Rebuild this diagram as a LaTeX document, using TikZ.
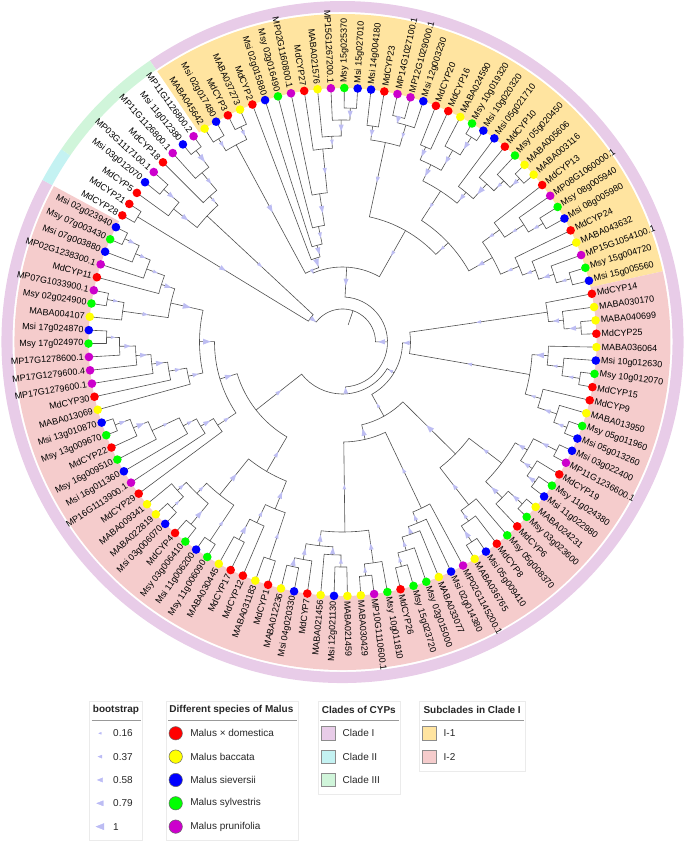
\documentclass[tikz,border=0pt]{standalone}
\usepackage{fontspec}
\setmainfont{Liberation Sans}
\usetikzlibrary{positioning}

\definecolor{cMd}{HTML}{FF0000}
\definecolor{cMb}{HTML}{FFFF00}
\definecolor{cMsi}{HTML}{0000FF}
\definecolor{cMsy}{HTML}{00FF00}
\definecolor{cMp}{HTML}{CC00CC}
\definecolor{ringI}{HTML}{E8CCE8}
\definecolor{ringII}{HTML}{C4F2F2}
\definecolor{ringIII}{HTML}{D0F5DA}
\definecolor{subI}{HTML}{FFE4A0}
\definecolor{subII}{HTML}{F5CCCC}
\definecolor{bootfill}{HTML}{BDBDF2}
\definecolor{treeline}{HTML}{505050}

\def\tipR{254}
\def\stp{3.02521}
\def\aO{150.1}

% angle / radius store for tree nodes
\newcommand\setnode[3]{\expandafter\xdef\csname tA@#1\endcsname{#2}%
  \expandafter\xdef\csname tR@#1\endcsname{#3}}
\newcommand\getA[1]{\csname tA@#1\endcsname}
\newcommand\getR[1]{\csname tR@#1\endcsname}

\newcommand\bootmark[3]{%
  \ifdim #3pt<250pt
    \pgfmathsetmacro\bmR{(#2+#3)/2}%
    \pgfmathsetmacro\bmS{2.2+1.9*rnd}%
    \fill[boot, shift={(#1:\bmR pt)}, rotate=#1]
      (-\bmS pt,0) -- (\bmS pt,0.75*\bmS pt) -- (\bmS pt,-0.75*\bmS pt) -- cycle;
  \fi}

\newcommand\clade[4]{%
  \pgfmathsetmacro\cdA{\getA{#3}}\pgfmathsetmacro\cdB{\getA{#4}}%
  \pgfmathsetmacro\crA{\getR{#3}}\pgfmathsetmacro\crB{\getR{#4}}%
  \draw[branch] (\cdA:\crA pt) -- (\cdA:#2pt)
    arc[start angle=\cdA, end angle=\cdB, radius=#2pt] -- (\cdB:\crB pt);
  \bootmark{\cdA}{#2}{\crA}\bootmark{\cdB}{#2}{\crB}%
  \pgfmathsetmacro\cdM{(\cdA+\cdB)/2}%
  \setnode{#1}{\cdM}{#2}}

\def\leaflist{MdCYP28/cMd, MdCYP21/cMd, MdCYP5/cMd, Msi 03g012070/cMsi,
  MP03G1117100.1/cMp, MdCYP18/cMd, MP11G1126800.1/cMp, Msi 11g012380/cMsi,
  MP11G1126800.2/cMp, MABA045642/cMb, Msi 02g017480/cMsi, MdCYP3/cMd,
  MABA037273/cMb, MdCYP2/cMd, Msi 02g015880/cMsi, Msy 02g016490/cMsy,
  MP02G1160800.1/cMp, MdCYP27/cMd, MABA021576/cMb, MP15G1267200.1/cMp,
  Msy 15g025370/cMsy, Msi 15g027010/cMsi, Msi 14g004180/cMsi, MdCYP23/cMd,
  MP14G1027100.1/cMp, MP12G1029000.1/cMp, Msi 12g003230/cMsi, MdCYP20/cMd,
  MdCYP16/cMd, MABA024590/cMb, Msy 10g019320/cMsy, Msi 10g020320/cMsi,
  Msi 05g021710/cMsi, MdCYP10/cMd, Msy 05g020450/cMsy, MABA005606/cMb,
  MABA003116/cMb, MdCYP13/cMd, MP08G1060000.1/cMp, Msy 08g005940/cMsy,
  Msi 08g005980/cMsi, MdCYP24/cMd, MABA043632/cMb, MP15G1054100.1/cMp,
  Msy 15g004720/cMsy, Msi 15g005560/cMsi, MdCYP14/cMd, MABA030170/cMb,
  MABA040699/cMb, MdCYP25/cMd, MABA036064/cMb, Msi 10g012630/cMsi,
  Msy 10g012070/cMsy, MdCYP15/cMd, MdCYP9/cMd, MABA013950/cMb,
  Msy 05g011960/cMsy, Msi 05g013260/cMsi, Msi 03g022400/cMsi, MP11G1236600.1/cMp,
  MdCYP19/cMd, Msy 11g024380/cMsy, Msi 11g022980/cMsi, MABA024231/cMb,
  Msy 03g023600/cMsy, MdCYP6/cMd, Msy 05g008370/cMsy, MdCYP8/cMd,
  Msi 05g009410/cMsi, MABA036765/cMb, MP02G1145200.1/cMp, Msi 02g014380/cMsi,
  MABA033077/cMb, Msy 02g015000/cMsy, Msy 15g023720/cMsy, MdCYP26/cMd,
  Msy 10g011810/cMsy, MP10G1110600.1/cMp, MABA030429/cMb, MABA021459/cMb,
  Msi 12g021130/cMsi, MABA021456/cMb, MdCYP7/cMd, Msi 04g020330/cMsi,
  MABA012236/cMb, MdCYP1/cMd, MABA031183/cMb, MdCYP12/cMd, MdCYP17/cMd,
  MABA030445/cMb, Msy 11g006090/cMsy, Msi 11g006200/cMsi, Msy 03g006410/cMsy,
  MdCYP4/cMd, Msi 03g006070/cMsi, MABA022819/cMb, MABA009341/cMb, MdCYP29/cMd,
  MP16G1113900.1/cMp, Msi 16g011360/cMsi, Msy 16g009510/cMsy, MdCYP22/cMd,
  Msy 13g009670/cMsy, Msi 13g010870/cMsi, MABA013069/cMb, MdCYP30/cMd,
  MP17G1279600.1/cMp, MP17G1279600.4/cMp, MP17G1278600.1/cMp, Msy 17g024970/cMsy,
  Msi 17g024870/cMsi, MABA004107/cMb, Msy 02g024900/cMsy, MP07G1033900.1/cMp,
  MdCYP11/cMd, MP02G1238300.1/cMp, Msi 07g003880/cMsi, Msy 07g003430/cMsy,
  Msi 02g023940/cMsi}

\begin{document}
\begin{tikzpicture}[x=1pt, y=1pt,
  branch/.style={draw=treeline, line width=0.6pt},
  boot/.style={fill=bootfill},
  dot/.style={circle, inner sep=0pt, minimum size=8.6pt},
  lab/.style={font=\fontsize{9}{10}\selectfont, inner sep=0.5pt},
  legbox/.style={draw=black!8, line width=0.5pt},
  legtitle/.style={font=\bfseries\fontsize{10}{12}\selectfont, text=black!85, inner sep=0pt},
  legrule/.style={draw=black!40, line width=0.6pt},
  legtext/.style={font=\fontsize{10}{12}\selectfont, text=black!85, inner sep=0pt},
  legsq/.style={rectangle, draw=black!45, line width=0.5pt, minimum size=13.3pt, inner sep=0pt},
  legdot/.style={circle, draw=black!60, line width=0.5pt, inner sep=0pt, minimum size=13.4pt},
  legboot/.style={fill=bootfill, draw=bootfill!70!blue!60, line width=0.3pt}
]
\useasboundingbox (-342.5,-500) rectangle (342.5,342);
\pgfmathsetseed{11}

% tip angles
\foreach \nm/\cl [count=\i] in \leaflist {
  \pgfmathsetmacro\la{\aO-(\i-1)*\stp}
  \setnode{l\i}{\la}{\tipR}
}

% subclade sectors and clade ring
\pgfmathsetmacro\bI{\aO-8.5*\stp}
\pgfmathsetmacro\bII{\aO-1.5*\stp}
\pgfmathsetmacro\bS{\aO-45.5*\stp}
\pgfmathsetmacro\bE{\aO-118.5*\stp}
\pgfmathsetmacro\bEE{\bE+360}
\fill[subI] (\bI:254pt) arc[start angle=\bI, end angle=\bS, radius=254pt]
  -- (\bS:328pt) arc[start angle=\bS, end angle=\bI, radius=328pt] -- cycle;
\fill[subII] (\bS:254pt) arc[start angle=\bS, end angle=\bE, radius=254pt]
  -- (\bE:328pt) arc[start angle=\bE, end angle=\bS, radius=328pt] -- cycle;
\fill[ringI] (\bI:330pt) arc[start angle=\bI, end angle=\bE, radius=330pt]
  -- (\bE:341pt) arc[start angle=\bE, end angle=\bI, radius=341pt] -- cycle;
\fill[ringII] (\bEE:330pt) arc[start angle=\bEE, end angle=\bII, radius=330pt]
  -- (\bII:341pt) arc[start angle=\bII, end angle=\bEE, radius=341pt] -- cycle;
\fill[ringIII] (\bII:330pt) arc[start angle=\bII, end angle=\bI, radius=330pt]
  -- (\bI:341pt) arc[start angle=\bI, end angle=\bII, radius=341pt] -- cycle;

% clades II and III
\clade{cII}{240}{l1}{l2}
\clade{n45}{235}{l4}{l5}
\clade{n35}{215}{l3}{n45}
\clade{n89}{241}{l8}{l9}
\clade{n79}{220}{l7}{n89}
\clade{n69}{197}{l6}{n79}
\clade{cIII}{185}{n35}{n69}
\clade{cIIIII}{40}{cII}{cIII}
% subclade I-1
\clade{nA1}{238}{l10}{l11}
\clade{nA2}{238}{l12}{l13}
\clade{cA}{224}{nA1}{nA2}
\clade{nB1}{234}{l21}{l22}
\clade{nB2}{222}{l20}{nB1}
\clade{nB3}{206}{l19}{nB2}
\clade{nB4}{194}{l18}{nB3}
\clade{nB5}{150}{l17}{nB4}
\clade{nB6}{118}{l16}{nB5}
\clade{nB7}{100}{l15}{nB6}
\clade{cB}{88}{l14}{nB7}
\clade{cAB}{78}{cA}{cB}
\clade{nC1}{218}{l23}{l24}
\clade{nC2}{232}{l25}{l26}
\clade{nC3}{226}{nC2}{l27}
\clade{cC}{204}{nC1}{nC3}
\clade{nD1}{212}{l28}{l29}
\clade{nD2}{242}{l31}{l32}
\clade{nD3}{221}{l30}{nD2}
\clade{cD}{198}{nD1}{nD3}
\clade{nE1}{241}{l36}{l37}
\clade{nE2}{228}{l35}{nE1}
\clade{nE3}{214}{l34}{nE2}
\clade{cE}{194}{l33}{nE3}
\clade{nF1}{233}{l40}{l41}
\clade{nF2}{216}{l39}{nF1}
\clade{cF}{193}{l38}{nF2}
\clade{nG1}{237}{l45}{l46}
\clade{nG2}{222}{l44}{nG1}
\clade{nG3}{206}{l43}{nG2}
\clade{cG}{192}{l42}{nG3}
\clade{cDE}{180}{cD}{cE}
\clade{cFG}{172}{cF}{cG}
\clade{cDG}{145}{cDE}{cFG}
\clade{cCG}{128}{cC}{cDG}
\clade{cI1}{75}{cAB}{cCG}
% subclade I-2
\clade{nH1}{239}{l49}{l50}
\clade{nH2}{222}{l48}{nH1}
\clade{cH}{207}{l47}{nH2}
\clade{nI1}{240}{l53}{l54}
\clade{nI2}{222}{l52}{nI1}
\clade{cIg}{206}{l51}{nI2}
\clade{nJ1}{240}{l57}{l58}
\clade{nJ2}{226}{l56}{nJ1}
\clade{cJg}{206}{l55}{nJ2}
\clade{cIJ}{190}{cIg}{cJg}
\clade{cHJ}{68}{cH}{cIJ}
\clade{nK1}{240}{l59}{l60}
\clade{nK2}{238}{l62}{l63}
\clade{nK3}{228}{l61}{nK2}
\clade{cK}{214}{nK1}{nK3}
\clade{nL1}{242}{l64}{l65}
\clade{cL}{223}{nL1}{l66}
\clade{cKL}{200}{cK}{cL}
\clade{nM1}{238}{l69}{l70}
\clade{nM2}{219}{l68}{nM1}
\clade{cM}{206}{l67}{nM2}
\clade{cKM}{159}{cKL}{cM}
\clade{nN1}{232}{l75}{l76}
\clade{nN2}{218}{l74}{nN1}
\clade{nN3}{204}{l73}{nN2}
\clade{nN4}{196}{l72}{nN3}
\clade{cN}{184}{l71}{nN4}
\clade{nO1}{235}{l78}{l79}
\clade{nO2}{223}{l77}{nO1}
\clade{nO3}{225}{l80}{l81}
\clade{nO4}{213}{nO3}{l82}
\clade{nO5}{230}{l84}{l85}
\clade{nO6}{221}{l83}{nO5}
\clade{nO7}{205}{nO4}{nO6}
\clade{cO}{190}{nO2}{nO7}
\clade{cNO}{100}{cN}{cO}
\clade{cKO}{85}{cKM}{cNO}
\clade{cHO}{60}{cHJ}{cKO}
\clade{nP1}{229}{l86}{l87}
\clade{nP2}{223}{l89}{l90}
\clade{nP3}{200}{l88}{nP2}
\clade{cP}{180}{nP1}{nP3}
\clade{nQ1}{239}{l91}{l92}
\clade{nQ2}{237}{l93}{l94}
\clade{nQ3}{238}{l95}{l96}
\clade{nQ4}{222}{nQ3}{l97}
\clade{nQ5}{210}{nQ2}{nQ4}
\clade{cQ}{196}{nQ1}{nQ5}
\clade{cPQ}{150}{cP}{cQ}
\clade{nR1}{242}{l103}{l104}
\clade{nR2}{226}{l102}{nR1}
\clade{nR3}{210}{l101}{nR2}
\clade{nR4}{180}{l100}{nR3}
\clade{nR5}{165}{l99}{nR4}
\clade{cR}{150}{l98}{nR5}
\clade{nS1}{236}{l110}{l111}
\clade{nS2}{223}{l109}{nS1}
\clade{nS3}{207}{l108}{nS2}
\clade{nS4}{192}{l107}{nS3}
\clade{nS5}{176}{l106}{nS4}
\clade{cS}{158}{l105}{nS5}
\clade{nT1}{239}{l113}{l114}
\clade{nT2}{222}{l112}{nT1}
\clade{nT3}{241}{l118}{l119}
\clade{nT4}{225}{l117}{nT3}
\clade{nT5}{209}{l116}{nT4}
\clade{nT6}{190}{l115}{nT5}
\clade{cT}{176}{nT2}{nT6}
\clade{cST}{143}{cS}{cT}
\clade{cRT}{128}{cR}{cST}
\clade{cPT}{110}{cPQ}{cRT}
\clade{cI2}{52}{cHO}{cPT}
\clade{cI}{45}{cI1}{cI2}
% root
\clade{root}{33}{cIIIII}{cI}
\pgfmathsetmacro\rootA{\getA{root}}
\draw[branch] (\rootA:18pt) -- (\rootA:33pt);

% tips and labels
\foreach \nm/\cl [count=\i] in \leaflist {
  \pgfmathsetmacro\la{\aO-(\i-1)*\stp}
  \pgfmathsetmacro\lb{\la<-180 ? \la+360 : \la}
  \pgfmathtruncatemacro\rside{abs(\lb)<90}
  \node[dot, fill=\cl] (d\i) at (\lb:\tipR pt) {};
  \ifnum\rside=1
    \node[lab, rotate=\lb, anchor=west] (t\i) at (\lb:258.5pt) {\nm};
  \else
    \pgfmathsetmacro\lc{\lb+180}
    \node[lab, rotate=\lc, anchor=east] (t\i) at (\lb:258.5pt) {\nm};
  \fi
}

% legend: bootstrap
\draw[legbox] (-253.2,-359.7) rectangle (-199.8,-498);
\node[legtitle, anchor=west] (bsTitle) at (-249.8,-368) {bootstrap};
\draw[legrule] (-250.8,-378.7) -- (-201.8,-378.7);
\foreach \bv/\bz [count=\k] in {0.16/1.3, 0.37/2.0, 0.58/2.7, 0.79/3.3, 1/4.0} {
  \pgfmathsetmacro\yy{-391.3-(\k-1)*23.33}
  \fill[legboot] (-242.5-\bz,\yy) -- (-242.5+\bz,\yy+0.8*\bz) -- (-242.5+\bz,\yy-0.8*\bz) -- cycle;
  \node[legtext, anchor=west] (bs\k) at (-229.5,\yy) {\bv};
}

% legend: species
\draw[legbox] (-176.5,-359.7) rectangle (-44.2,-498);
\node[legtitle, anchor=west] (spTitle) at (-173.2,-368) {Different species of Malus};
\draw[legrule] (-174.2,-378.7) -- (-45.8,-378.7);
\foreach \sp/\cl [count=\k] in {Malus × domestica/cMd, Malus baccata/cMb,
    Malus sieversii/cMsi, Malus sylvestris/cMsy, Malus prunifolia/cMp} {
  \pgfmathsetmacro\yy{-391.3-(\k-1)*23.33}
  \node[legdot, fill=\cl] (spDot\k) at (-166.8,\yy) {};
  \node[legtext, right=7.5pt of spDot\k] (sp\k) {\sp};
}

% legend: clades
\draw[legbox] (-24.2,-359.7) rectangle (57.5,-452.3);
\node[legtitle, anchor=west] (clTitle) at (-20.8,-368) {Clades of CYPs};
\draw[legrule] (-22.2,-378.7) -- (56,-378.7);
\foreach \cn/\cl [count=\k] in {Clade I/ringI, Clade II/ringII, Clade III/ringIII} {
  \pgfmathsetmacro\yy{-391.3-(\k-1)*23.33}
  \node[legsq, fill=\cl] (clSq\k) at (-14.2,\yy) {};
  \node[legtext, right=7.3pt of clSq\k] (cl\k) {\cn};
}

% legend: subclades
\draw[legbox] (76.8,-359.7) rectangle (182.5,-429);
\node[legtitle, anchor=west] (scTitle) at (80.8,-368) {Subclades in Clade I};
\draw[legrule] (79.8,-378.7) -- (181,-378.7);
\foreach \cn/\cl [count=\k] in {I-1/subI, I-2/subII} {
  \pgfmathsetmacro\yy{-391.3-(\k-1)*23.33}
  \node[legsq, fill=\cl] (scSq\k) at (86.8,\yy) {};
  \node[legtext, right=7.3pt of scSq\k] (sc\k) {\cn};
}
\end{tikzpicture}
\end{document}
